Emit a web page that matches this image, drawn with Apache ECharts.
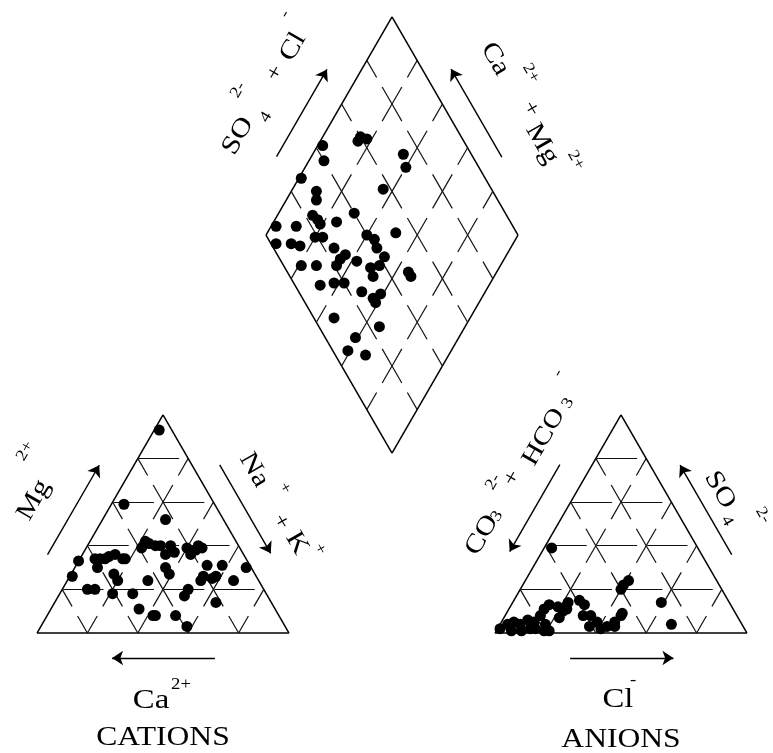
<!DOCTYPE html>
<html>
<head>
<meta charset="utf-8">
<title>Piper diagram</title>
<script src="https://cdn.jsdelivr.net/npm/echarts@6/dist/echarts.min.js"></script>
<style>
html, body { margin: 0; padding: 0; background: #fff; }
#chart { width: 773px; height: 753px; }
</style>
</head>
<body>
<div id="chart"></div>
<script>
// cation triangle, % of meq (Na+ + K+ is the remainder)
var cationCa = [5, 36, 23, 36, 35, 33, 39, 31, 27, 27, 31, 34, 34, 21, 18, 15, 21, 17, 11, 21, 18, 16, 23, 2, 10, 30, 33, 22, 49, 41, 39, 60, 58, 56, 54, 51, 49, 48, 61, 67, 73, 56, 56, 70, 67, 61, 53, 44, 54, 50, 16];
var cationMg = [93, 59, 52, 42, 41, 40, 39, 40, 40, 37, 36, 30, 27, 39, 38, 39, 36, 31, 31, 26, 25, 26, 24, 30, 24, 20, 17, 14, 8, 8, 3, 34, 34, 34, 35, 36, 34, 34, 30, 33, 26, 27, 24, 20, 20, 18, 18, 24, 11, 8, 40];

// anion triangle (CO3 + HCO3 is the remainder)
var anionCl = [3, 1, 3, 5, 8, 10, 13, 14, 14, 15, 19, 22, 23, 18, 21, 15, 13, 26, 29, 31, 34, 38, 36, 41, 43, 40, 41, 40, 46, 46, 45, 46, 59, 68, 6, 10, 22, 22, 19];
var anionSO4 = [39, 2, 4, 5, 4, 6, 5, 8, 11, 13, 12, 10, 11, 4, 1, 2, 2, 15, 13, 8, 8, 5, 3, 2, 3, 22, 24, 20, 9, 8, 5, 3, 14, 4, 1, 1, 7, 14, 1];

// diamond: SO4 + Cl and Na + K
var diamondSO4Cl = [43, 40, 27, 30, 28, 60, 62, 58, 73, 71, 57, 6, 14, 23, 24, 24, 31, 40, 52, 2, 8, 11, 19, 22, 24, 40, 42, 41, 7, 13, 24, 27, 21, 30, 42, 34, 38, 33, 48, 48, 10, 16, 20, 25, 28, 32, 28, 8, 24, 12, 6, 12];
var diamondNaK = [2, 6, 1, 10, 12, 15, 18, 15, 36, 40, 36, 2, 10, 14, 17, 19, 25, 30, 51, 6, 12, 16, 20, 23, 30, 40, 44, 47, 21, 27, 35, 36, 35, 42, 52, 49, 52, 52, 65, 67, 33, 38, 42, 51, 57, 59, 59, 46, 66, 59, 59, 67];

var gridStep = 20;

// layout
var SIDE = 252;
var H = SIDE * Math.sqrt(3) / 2;
var catBL = [37, 633];
var aniBL = [495, 633];
var dmL = [266, 235];
var n = 100 / gridStep;

function triPt(bl, u, w) {
	return [bl[0] + SIDE * (u + w / 2), bl[1] - H * w];
}
function catXY(ca, mg) {
	var nak = 100 - ca - mg;
	return triPt(catBL, nak / 100, mg / 100);
}
function aniXY(cl, so4) {
	return triPt(aniBL, cl / 100, so4 / 100);
}
function dmPt(a, b) {
	return [dmL[0] + SIDE / 2 * (a + b), dmL[1] - H * (a - b)];
}
function dmXY(so4cl, nak) {
	return dmPt(so4cl / 100, nak / 100);
}
function lerp(p, q, t) {
	return [p[0] + (q[0] - p[0]) * t, p[1] + (q[1] - p[1]) * t];
}

var outline = [], grid = [], arrows = [];
function seg(list, p, q) {
	list.push({ coords: [p, q] });
}
// the original grid is broken up, draw each cell edge in pieces
var GAP = [[0, 0.39], [0.61, 1]];
var FLAT = [[0.02, 0.82]];
function piece(p, q, parts) {
	parts.forEach(function (r) {
		seg(grid, lerp(p, q, r[0]), lerp(p, q, r[1]));
	});
}

function triGrid(bl) {
	var P = function (i, k) { return triPt(bl, i / n, k / n); };
	seg(outline, P(0, 0), P(n, 0));
	seg(outline, P(n, 0), P(0, n));
	seg(outline, P(0, n), P(0, 0));
	for (var k = 0; k < n; k++) {
		for (var i = 0; i + k < n; i++) {
			if (k > 0) piece(P(i, k), P(i + 1, k), FLAT);
			if (i > 0) piece(P(i, k), P(i, k + 1), GAP);
			if (i + k + 1 < n) piece(P(i + 1, k), P(i, k + 1), GAP);
		}
	}
}
function dmGrid() {
	var P = function (i, j) { return dmPt(i / n, j / n); };
	seg(outline, P(0, 0), P(n, 0));
	seg(outline, P(n, 0), P(n, n));
	seg(outline, P(n, n), P(0, n));
	seg(outline, P(0, n), P(0, 0));
	for (var i = 0; i <= n; i++) {
		for (var j = 0; j <= n; j++) {
			if (j > 0 && j < n && i < n) piece(P(i, j), P(i + 1, j), GAP);
			if (i > 0 && i < n && j < n) piece(P(i, j), P(i, j + 1), GAP);
		}
	}
}
triGrid(catBL);
triGrid(aniBL);
dmGrid();

function edgeArrow(p, q, t0, t1, d) {
	var len = Math.hypot(q[0] - p[0], q[1] - p[1]);
	var nx = (q[1] - p[1]) / len, ny = -(q[0] - p[0]) / len;
	var a = lerp(p, q, t0), b = lerp(p, q, t1);
	arrows.push({ coords: [[a[0] + nx * d, a[1] + ny * d], [b[0] + nx * d, b[1] + ny * d]] });
}
var cA = triPt(catBL, 0, 0), cB = triPt(catBL, 1, 0), cC = triPt(catBL, 0, 1);
var aA = triPt(aniBL, 0, 0), aB = triPt(aniBL, 1, 0), aC = triPt(aniBL, 0, 1);
var dL = dmPt(0, 0), dT = dmPt(1, 0), dR = dmPt(1, 1);
edgeArrow(cA, cC, 0.29, 0.70, 30);
edgeArrow(cC, cB, 0.285, 0.69, 24);
edgeArrow(cB, cA, 0.294, 0.702, 25);
edgeArrow(aA, aC, 0.707, 0.309, 28);
edgeArrow(aC, aB, 0.70, 0.29, 26);
edgeArrow(aB, aA, 0.702, 0.292, 25);
edgeArrow(dL, dT, 0.29, 0.69, 30);
edgeArrow(dT, dR, 0.70, 0.297, 25);

var catPts = cationCa.map(function (v, i) { return catXY(v, cationMg[i]); });
var aniPts = anionCl.map(function (v, i) { return aniXY(v, anionSO4[i]); });
var dmPts = diamondSO4Cl.map(function (v, i) { return dmXY(v, diamondNaK[i]); });

// text pieces: text, x, y, rotation (deg, counter-clockwise), font size
var labels = [
	['SO', 238, 136, 60, 26], ['4', 266, 117, 60, 16], ['2-', 238, 90, 60, 16],
	['+', 275, 73, 60, 22], ['Cl', 293, 47, 60, 26], ['-', 285, 14, 60, 16],
	['Ca', 495, 59, -60, 26], ['2+', 531, 73, -60, 16], ['+', 531, 109, -60, 22],
	['Mg', 542, 144, -60, 26], ['2+', 576, 160, -60, 16],
	['Mg', 34, 500, 60, 26], ['2+', 25, 451, 60, 16],
	['Na', 254, 470, -60, 26], ['+', 285, 488, -60, 16], ['+', 281, 522, -60, 22],
	['K', 297, 543, -60, 26], ['+', 320, 549, -60, 16],
	['CO', 482, 535, 60, 26], ['3', 497, 516, 60, 16], ['2-', 493, 482, 60, 16],
	['+', 512, 478, 60, 22], ['HCO', 544, 437, 60, 25], ['3', 568, 403, 60, 16], ['-', 558, 373, 60, 16],
	['SO', 720, 490, -60, 26], ['4', 727, 521, -60, 16], ['2-', 763, 515, -60, 16],
	['Ca', 151, 701, 0, 28], ['2+', 181, 685, 0, 16], ['CATIONS', 163, 738, 0, 27],
	['Cl', 618, 700, 0, 28], ['-', 633, 681, 0, 16], ['ANIONS', 621, 740, 0, 27]
];
var graphics = labels.map(function (l) {
	return {
		type: 'text',
		x: l[1], y: l[2],
		rotation: l[3] * Math.PI / 180,
		scaleX: 1.17,
		style: {
			text: l[0],
			fontFamily: 'Liberation Serif',
			fontSize: l[4],
			fill: '#000',
			align: 'center',
			verticalAlign: 'middle'
		}
	};
});

var chart = echarts.init(document.getElementById('chart'));
var dot = { type: 'scatter', symbol: 'circle', symbolSize: 11, itemStyle: { color: '#000', opacity: 1 }, silent: true, z: 5 };
chart.setOption({
	animation: false,
	backgroundColor: '#fff',
	grid: { left: 0, right: 0, top: 0, bottom: 0 },
	xAxis: { type: 'value', min: 0, max: 773, show: false },
	yAxis: { type: 'value', min: 0, max: 753, inverse: true, show: false },
	graphic: graphics,
	series: [
		{ type: 'lines', coordinateSystem: 'cartesian2d', silent: true, data: outline,
			lineStyle: { color: '#000', width: 1.5, opacity: 1 } },
		{ type: 'lines', coordinateSystem: 'cartesian2d', silent: true, data: grid,
			lineStyle: { color: '#111', width: 1.2, opacity: 1 } },
		{ type: 'lines', coordinateSystem: 'cartesian2d', silent: true, data: arrows,
			symbol: ['none', 'arrow'], symbolSize: 11,
			lineStyle: { color: '#000', width: 1.4, opacity: 1 } },
		Object.assign({ name: 'cations', data: catPts }, dot),
		Object.assign({ name: 'anions', data: aniPts }, dot),
		Object.assign({ name: 'diamond', data: dmPts }, dot)
	]
});
</script>
</body>
</html>
